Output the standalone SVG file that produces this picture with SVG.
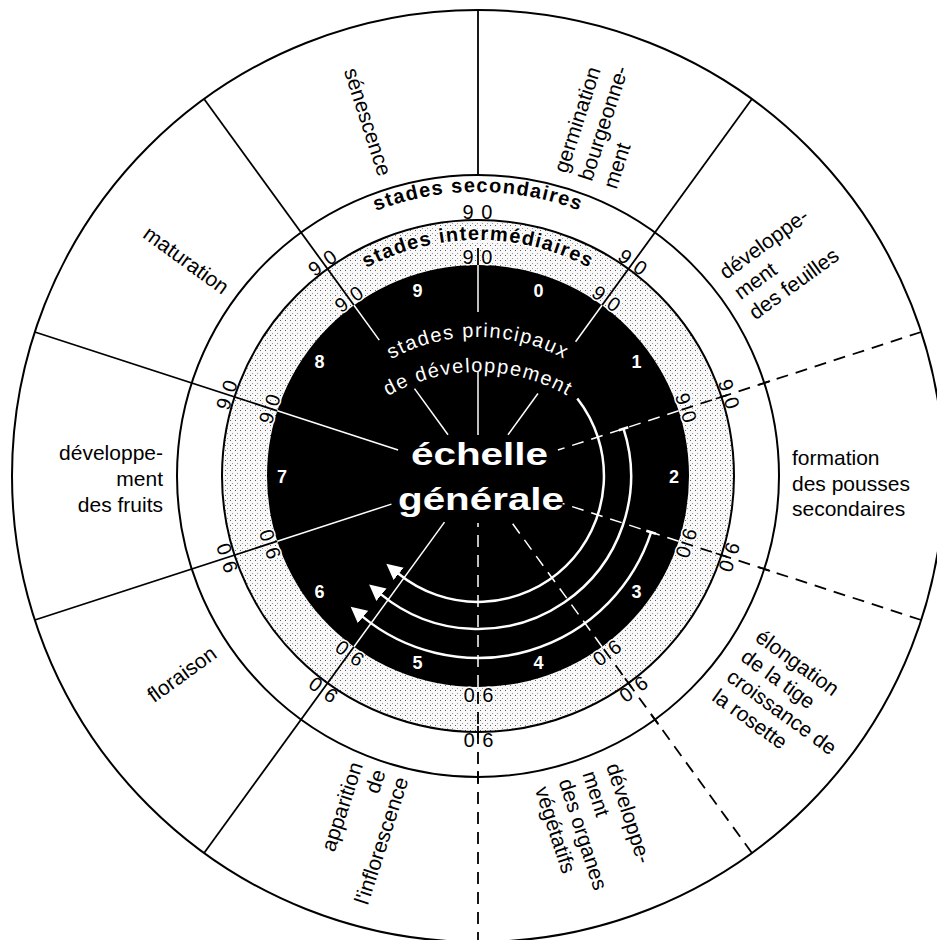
<svg xmlns="http://www.w3.org/2000/svg" width="937" height="940" viewBox="0 0 937 940">
<defs>
<pattern id="stipple" width="5" height="5" patternUnits="userSpaceOnUse">
<rect width="5" height="5" fill="#f8f8f8"/>
<rect x="0" y="0" width="1" height="1" fill="#5a5a5a"/>
<rect x="2" y="3" width="1" height="1" fill="#9a9a9a"/>
</pattern>
<marker id="arrow" markerWidth="18" markerHeight="18" viewBox="0 -9 18 18" refX="1" refY="0" orient="auto" markerUnits="userSpaceOnUse">
<path d="M0,-8 L16,0 L0,8 Z" fill="#fff"/>
</marker>
<path id="p-sec" d="M211.1,378.9 A284,284 0 0 1 744.9,378.9"/>
<path id="p-int" d="M256.2,395.3 A236,236 0 0 1 699.8,395.3"/>
<path id="p-pr1" d="M322.1,427 A180,180 0 0 1 633.9,427"/>
<path id="p-pr2" d="M322.1,462 A180,180 0 0 1 633.9,462"/>
</defs>
<style>
.t{font-family:"Liberation Sans",Arial,sans-serif;font-size:21px;fill:#000}
.lbl{font-family:"Liberation Sans",Arial,sans-serif;font-size:20px;fill:#000;text-anchor:middle;letter-spacing:1px}
.halo{stroke:#fff;stroke-width:3px;paint-order:stroke;stroke-linejoin:round}
.ring{font-family:"Liberation Sans",Arial,sans-serif;font-size:20px;font-weight:bold;letter-spacing:1.3px;fill:#000}
.pr{font-family:"Liberation Sans",Arial,sans-serif;font-size:20px;fill:#fff;letter-spacing:1.5px}
.dig{font-family:"Liberation Sans",Arial,sans-serif;font-size:18px;font-weight:bold;fill:#fff;text-anchor:middle}
.big{font-family:"Liberation Sans",Arial,sans-serif;font-size:32px;font-weight:bold;fill:#fff}
.bl{stroke:#000;stroke-width:1.8;fill:none}
.bd{stroke:#000;stroke-width:1.8;fill:none;stroke-dasharray:12 8}
.wl{stroke:#fff;stroke-width:1.5;fill:none}
.wd{stroke:#fff;stroke-width:1.5;fill:none;stroke-dasharray:12 8}
.arc{stroke:#fff;stroke-width:2.5;fill:none}
</style>
<rect width="937" height="940" fill="#fff"/>
<g id="rings">
<circle cx="478" cy="476" r="466" fill="#fff" stroke="#000" stroke-width="2"/>
<circle cx="478" cy="476" r="301" fill="#fff" stroke="#000" stroke-width="2"/>
<circle cx="478" cy="476" r="256" fill="url(#stipple)" stroke="#000" stroke-width="2"/>
<circle cx="478" cy="476" r="211" fill="#000"/>
</g>
<g id="connectors">
<line class="bl" x1="478" y1="10" x2="478" y2="175"/>
<line class="bl" x1="478" y1="248" x2="478" y2="265"/>
<line class="bl" x1="478" y1="10" x2="478" y2="265" transform="rotate(36 478 476)"/>
<line class="bl" x1="478" y1="10" x2="478" y2="265" transform="rotate(-36 478 476)"/>
<line class="bl" x1="478" y1="10" x2="478" y2="265" transform="rotate(-72 478 476)"/>
<line class="bl" x1="478" y1="10" x2="478" y2="265" transform="rotate(-108 478 476)"/>
<line class="bl" x1="478" y1="10" x2="478" y2="265" transform="rotate(-144 478 476)"/>
<g transform="rotate(72 478 476)"><line class="bd" x1="478" y1="10" x2="478" y2="265"/><line class="bl" x1="478" y1="169" x2="478" y2="181"/><line class="bl" x1="478" y1="214" x2="478" y2="226"/><line class="wd" x1="478" y1="265" x2="478" y2="392"/></g>
<g transform="rotate(108 478 476)"><line class="bd" x1="478" y1="10" x2="478" y2="265"/><line class="bl" x1="478" y1="169" x2="478" y2="181"/><line class="bl" x1="478" y1="214" x2="478" y2="226"/><line class="wd" x1="478" y1="265" x2="478" y2="387"/></g>
<g transform="rotate(144 478 476)"><line class="bd" x1="478" y1="10" x2="478" y2="265"/><line class="bl" x1="478" y1="169" x2="478" y2="181"/><line class="bl" x1="478" y1="214" x2="478" y2="226"/><line class="wd" x1="478" y1="265" x2="478" y2="420"/></g>
<g transform="rotate(180 478 476)"><line class="bd" x1="478" y1="8" x2="478" y2="265"/><line class="bl" x1="478" y1="169" x2="478" y2="181"/><line class="bl" x1="478" y1="214" x2="478" y2="226"/><line class="wd" x1="478" y1="265" x2="478" y2="429"/></g>
<line class="wl" x1="478" y1="265" x2="478" y2="312"/>
<line class="wl" x1="478" y1="372" x2="478" y2="435"/>
<g transform="rotate(36 478 476)"><line class="wl" x1="478" y1="265" x2="478" y2="310"/><line class="wl" x1="478" y1="374" x2="478" y2="425"/></g>
<g transform="rotate(-36 478 476)"><line class="wl" x1="478" y1="265" x2="478" y2="308"/><line class="wl" x1="478" y1="368" x2="478" y2="425"/></g>
<line class="wl" x1="478" y1="265" x2="478" y2="392" transform="rotate(-72 478 476)"/>
<line class="wl" x1="478" y1="265" x2="478" y2="385" transform="rotate(-108 478 476)"/>
<line class="wl" x1="478" y1="265" x2="478" y2="419" transform="rotate(-144 478 476)"/>
</g>
<g id="arrows">
<path class="arc" d="M577.3,398.4 A126,126 0 0 1 397.9,573.2" marker-end="url(#arrow)"/>
<path class="arc" d="M623.5,428.7 A153,153 0 0 1 380.7,594.1" marker-end="url(#arrow)"/>
<path class="arc" d="M651.1,532.2 A182,182 0 0 1 362.2,616.4" marker-end="url(#arrow)"/>
<line class="arc" x1="618.8" y1="430.3" x2="628.3" y2="427.2"/>
<line class="arc" x1="646.3" y1="530.7" x2="655.9" y2="533.8"/>
</g>
<g id="boundary-labels">
<text class="lbl" x="478" y="219">9 0</text>
<text class="lbl halo" x="478" y="264">9 0</text>
<g transform="rotate(36 478 476)"><text class="lbl" x="478" y="219">9 0</text><text class="lbl halo" x="478" y="264">9 0</text></g>
<g transform="rotate(72 478 476)"><text class="lbl" x="478" y="219">9 0</text><text class="lbl halo" x="478" y="264">9 0</text></g>
<g transform="rotate(108 478 476)"><text class="lbl" x="478" y="219">9 0</text><text class="lbl halo" x="478" y="264">9 0</text></g>
<g transform="rotate(144 478 476)"><text class="lbl" x="478" y="219">9 0</text><text class="lbl halo" x="478" y="264">9 0</text></g>
<g transform="rotate(180 478 476)"><text class="lbl" x="478" y="219">9 0</text><text class="lbl halo" x="478" y="264">9 0</text></g>
<g transform="rotate(-144 478 476)"><text class="lbl" x="478" y="219">9 0</text><text class="lbl halo" x="478" y="264">9 0</text></g>
<g transform="rotate(-108 478 476)"><text class="lbl" x="478" y="219">9 0</text><text class="lbl halo" x="478" y="264">9 0</text></g>
<g transform="rotate(-72 478 476)"><text class="lbl" x="478" y="219">9 0</text><text class="lbl halo" x="478" y="264">9 0</text></g>
<g transform="rotate(-36 478 476)"><text class="lbl" x="478" y="219">9 0</text><text class="lbl halo" x="478" y="264">9 0</text></g>
</g>
<g id="ring-titles">
<text class="ring"><textPath href="#p-sec" startOffset="50%" text-anchor="middle">stades secondaires</textPath></text>
<text class="ring halo"><textPath href="#p-int" startOffset="50%" text-anchor="middle">stades intermédiaires</textPath></text>
<text class="pr"><textPath href="#p-pr1" startOffset="50%" text-anchor="middle">stades principaux</textPath></text>
<text class="pr"><textPath href="#p-pr2" startOffset="50%" text-anchor="middle">de développement</textPath></text>
</g>
<g id="center">
<text class="big" x="411" y="465" textLength="137" lengthAdjust="spacingAndGlyphs">échelle</text>
<text class="big" x="398" y="510" textLength="166" lengthAdjust="spacingAndGlyphs">générale</text>
</g>
<g id="principal-stages">
<text class="dig" x="538.6" y="297">0</text>
<text class="dig" x="636.6" y="368">1</text>
<text class="dig" x="674" y="483">2</text>
<text class="dig" x="636.6" y="598">3</text>
<text class="dig" x="538.6" y="669">4</text>
<text class="dig" x="417.4" y="669">5</text>
<text class="dig" x="319.4" y="598">6</text>
<text class="dig" x="282" y="483">7</text>
<text class="dig" x="319.4" y="368">8</text>
<text class="dig" x="417.4" y="297">9</text>
</g>
<g id="sector-germination"><text class="t" transform="translate(567,174) rotate(-72)"><tspan x="0" y="0">germination</tspan><tspan x="0" y="26">bourgeonne-</tspan><tspan x="0" y="52">ment</tspan></text></g>
<g id="sector-feuilles"><text class="t" transform="translate(726,280) rotate(-36)"><tspan x="0" y="0">développe-</tspan><tspan x="0" y="25">ment</tspan><tspan x="0" y="50">des feuilles</tspan></text></g>
<g id="sector-pousses"><text class="t"><tspan x="792" y="465">formation</tspan><tspan x="792" y="490.5">des pousses</tspan><tspan x="792" y="516">secondaires</tspan></text></g>
<g id="sector-elongation"><text class="t" transform="translate(754,640) rotate(36)"><tspan x="0" y="0">élongation</tspan><tspan x="0" y="24.5">de la tige</tspan><tspan x="0" y="49">croissance de</tspan><tspan x="0" y="73.5">la rosette</tspan></text></g>
<g id="sector-organes"><text class="t" transform="translate(606,766) rotate(72)"><tspan x="0" y="0">développe-</tspan><tspan x="0" y="25">ment</tspan><tspan x="0" y="50">des organes</tspan><tspan x="0" y="75">végétatifs</tspan></text></g>
<g id="sector-inflorescence"><text class="t" text-anchor="end" transform="translate(363,765) rotate(-72)"><tspan x="0" y="0">apparition</tspan><tspan x="0" y="24">de</tspan><tspan x="0" y="48">l'inflorescence</tspan></text></g>
<g id="sector-floraison"><text class="t" text-anchor="middle" transform="translate(186,680) rotate(-36)">floraison</text></g>
<g id="sector-fruits"><text class="t" text-anchor="end"><tspan x="163" y="460">développe-</tspan><tspan x="163" y="486">ment</tspan><tspan x="163" y="512">des fruits</tspan></text></g>
<g id="sector-maturation"><text class="t" text-anchor="middle" transform="translate(182,266) rotate(36)">maturation</text></g>
<g id="sector-senescence"><text class="t" text-anchor="middle" transform="translate(361,124) rotate(72)">sénescence</text></g>
</svg>
